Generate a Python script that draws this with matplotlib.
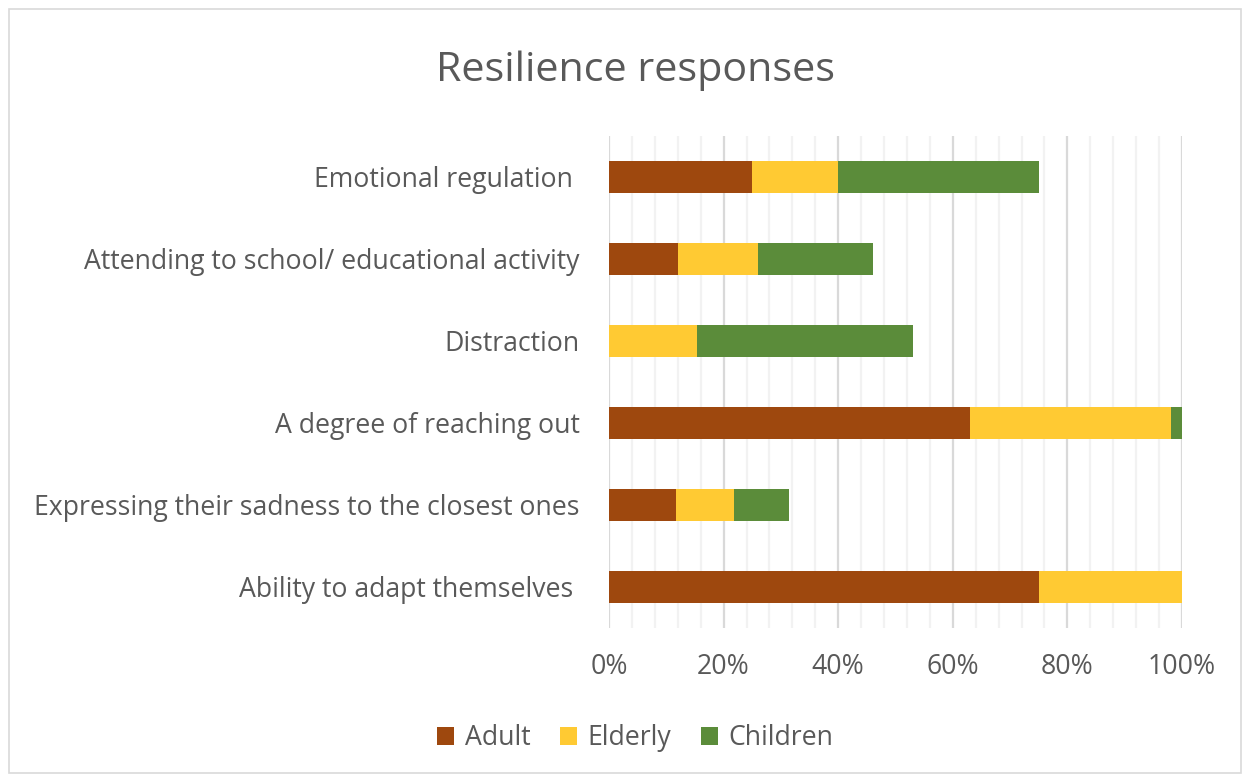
import matplotlib
matplotlib.use("Agg")
import matplotlib.pyplot as plt
from matplotlib.patches import Rectangle
from matplotlib.ticker import MultipleLocator, FuncFormatter

categories = [
    "Emotional regulation ",
    "Attending to school/ educational activity",
    "Distraction",
    "A degree of reaching out",
    "Expressing their sadness to the closest ones",
    "Ability to adapt themselves ",
]
adult = [25, 12, 0, 63, 11.7, 75]
elderly = [15, 14, 15.4, 35, 10.1, 25]
children = [35, 20, 37.6, 2, 9.6, 0]
series_names = ["Adult", "Elderly", "Children"]
colors = ["#9E480E", "#FFCA33", "#5B8C3A"]

plt.rcParams['font.family'] = ['Open Sans', 'DejaVu Sans']
txt = "#595959"
fs = 19.2

fig = plt.figure(figsize=(12.5, 7.81), dpi=100)
fig.patches.append(Rectangle((0.007, 0.01), 0.986, 0.978, transform=fig.transFigure,
                             fill=False, edgecolor="#D9D9D9", linewidth=1.2))
ax = fig.add_axes([0.4872, 0.1959, 0.4584, 0.630])

y = list(range(len(categories)))
left = [0] * len(categories)
for vals, name, c in zip([adult, elderly, children], series_names, colors):
    ax.barh(y, vals, left=left, height=0.39, color=c, label=name, zorder=3)
    left = [a + b for a, b in zip(left, vals)]

ax.set_xlim(0, 100)
ax.set_ylim(5.5, -0.5)
ax.set_yticks(y)
ax.set_yticklabels(categories, fontsize=fs, color=txt)
ax.xaxis.set_major_locator(MultipleLocator(20))
ax.xaxis.set_minor_locator(MultipleLocator(4))
ax.xaxis.set_major_formatter(FuncFormatter(lambda v, p: f"{int(round(v))}%"))
ax.tick_params(axis='x', which='both', length=0, labelsize=fs, labelcolor=txt, pad=18)
ax.tick_params(axis='y', length=0, pad=21)
ax.grid(axis='x', which='major', color="#D9D9D9", linewidth=1.6, zorder=0)
ax.grid(axis='x', which='minor', color="#F2F2F2", linewidth=1.6, zorder=0)
for s in ax.spines.values():
    s.set_visible(False)

fig.text(0.508, 0.909, "Resilience responses", ha='center', va='center',
         fontsize=29.7, color=txt)

fig.legend(loc='center', bbox_to_anchor=(0.508, 0.055), ncol=3, frameon=False,
           fontsize=fs, labelcolor=txt, handlelength=0.65, handleheight=0.65,
           handletextpad=0.4, columnspacing=1.1)

fig.savefig("out.png", dpi=100)
